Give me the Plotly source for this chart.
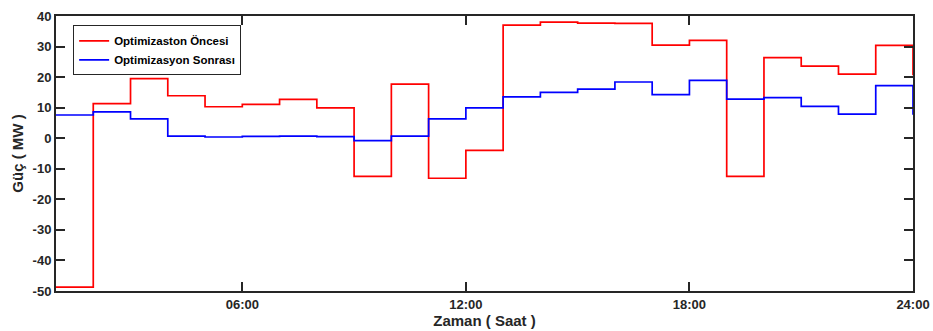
import plotly.graph_objects as go

hours = list(range(1, 25))
oncesi = [-48.7, 11.3, 19.5, 13.9, 10.3, 11.1, 12.7, 9.9, -12.5, 17.7, -13.1, -4.0,
          37.0, 38.0, 37.7, 37.6, 30.5, 32.0, -12.5, 26.4, 23.6, 21.0, 30.4, 20.6]
sonrasi = [7.6, 8.6, 6.3, 0.7, 0.4, 0.6, 0.7, 0.5, -0.8, 0.7, 6.3, 9.9,
           13.5, 15.0, 16.1, 18.4, 14.3, 18.9, 12.8, 13.3, 10.4, 7.9, 17.2, 7.7]
x_tickvals = [6, 12, 18, 24]
x_ticktext = ["06:00", "12:00", "18:00", "24:00"]
y_tickvals = [-50, -40, -30, -20, -10, 0, 10, 20, 30, 40]
y_ticktext = [str(v) for v in y_tickvals]

axcol = "#262626"
font_family = "Arial, Liberation Sans, sans-serif"

fig = go.Figure()
fig.add_trace(go.Scatter(x=hours, y=oncesi, mode="lines", line_shape="hv",
                         line=dict(color="#ff0000", width=1.7), name="Optimizaston Öncesi"))
fig.add_trace(go.Scatter(x=hours, y=sonrasi, mode="lines", line_shape="hv",
                         line=dict(color="#0000ff", width=1.7), name="Optimizasyon Sonrası"))

fig.update_layout(
    width=933, height=331,
    margin=dict(l=56, r=20, t=16, b=40, autoexpand=False),
    plot_bgcolor="white", paper_bgcolor="white",
    font=dict(family=font_family, color=axcol, size=13),
    showlegend=True,
    legend=dict(x=0.02, y=0.966, xanchor="left", yanchor="top",
                bgcolor="white", bordercolor="#262626", borderwidth=1,
                font=dict(size=11.5, color="black", weight="bold"),
                tracegroupgap=0, itemwidth=30),
    xaxis=dict(range=[1, 24], tickvals=x_tickvals, ticktext=x_ticktext,
               ticks="inside", ticklen=9, tickwidth=2, tickcolor=axcol,
               showline=True, linewidth=2, linecolor=axcol, mirror="ticks",
               showgrid=False, zeroline=False, automargin=True,
               tickfont=dict(size=13, weight="bold", color=axcol),
               title=dict(text="Zaman ( Saat )", standoff=2,
                          font=dict(size=15, weight="bold", color=axcol))),
    yaxis=dict(range=[-50, 40], tickvals=y_tickvals, ticktext=y_ticktext,
               ticks="inside", ticklen=9, tickwidth=2, tickcolor=axcol,
               showline=True, linewidth=2, linecolor=axcol, mirror="ticks",
               showgrid=False, zeroline=False, automargin=True,
               tickfont=dict(size=13, weight="bold", color=axcol),
               title=dict(text="Güç ( MW )", standoff=5,
                          font=dict(size=15, weight="bold", color=axcol))),
)

fig.write_html("out.html", config={"displayModeBar": False},
               post_script="document.body.style.margin='0';document.body.style.overflow='hidden';")
